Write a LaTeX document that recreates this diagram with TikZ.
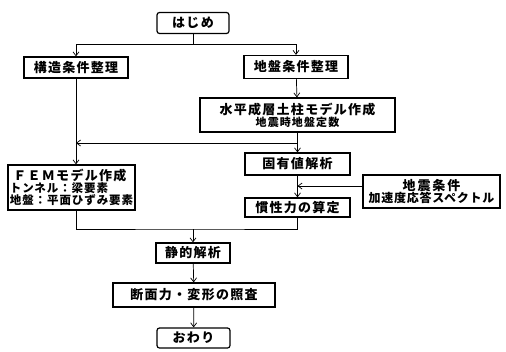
\documentclass[tikz,border=0pt]{standalone}
\usepackage{fontspec}
\setmainfont{Noto Sans CJK JP}
\usetikzlibrary{arrows.meta}
\newcommand{\subtxt}[1]{{\bfseries\fontsize{11}{12}\selectfont\addfontfeature{LetterSpace=10}#1}}
\newcommand{\midtxt}[1]{{\bfseries\fontsize{11.5}{12}\selectfont\addfontfeature{LetterSpace=8}#1}}
\begin{document}
\begin{tikzpicture}[x=1pt,y=-1pt,
  box/.style={draw,line width=1.2pt,inner sep=0pt,align=center,font=\bfseries\fontsize{13}{15}\selectfont\addfontfeature{LetterSpace=10}},
  rbox/.style={box,rounded corners=2.5pt},
  arr/.style={-{Straight Barb[length=4pt,width=6pt]}},
  line/.style={line width=0.7pt}]
\useasboundingbox (0,0) rectangle (506,351);
\node[rbox,minimum width=72pt,minimum height=21pt] (start) at (193,23) {はじめ};
\node[box,minimum width=104pt,minimum height=21pt] (kozo) at (76,67.5) {構造条件整理};
\node[box,minimum width=104pt,minimum height=23pt] (jiban) at (296,67) {地盤条件整理};
\node[box,minimum width=195pt,minimum height=34pt] (suihei) at (297.5,115) {水平成層土柱モデル作成\\[-3pt]\subtxt{地震時地盤定数}};
\node[box,minimum width=105pt,minimum height=22pt] (koyu) at (297.5,164) {固有値解析};
\node[box,minimum width=105pt,minimum height=19pt] (kansei) at (297.5,207.5) {慣性力の算定};
\node[box,minimum width=137pt,minimum height=33pt] (jishin) at (431.5,191.5) {\addfontfeature{LetterSpace=15}地震条件\\[-3pt]{\bfseries\fontsize{12}{12}\selectfont\addfontfeature{LetterSpace=6}加速度応答スペクトル}};
\node[box,minimum width=127pt,minimum height=45pt,align=left] (fem) at (71.5,187.5) {\makebox[120pt]{ＦＥＭモデル作成}\\[-3pt]\midtxt{トンネル：梁要素}\\[-3pt]\midtxt{地盤：平面ひずみ要素}};
\node[box,minimum width=74pt,minimum height=20pt] (seiteki) at (193,253) {静的解析};
\node[box,minimum width=162pt,minimum height=24pt] (danmen) at (194,295) {断面力・変形の照査};
\node[rbox,minimum width=73pt,minimum height=20pt] (owari) at (193.5,338) {おわり};
\coordinate (j1) at (193,44);
\coordinate (j2) at (297.5,143);
\coordinate (j3) at (297.5,186);
\coordinate (j4) at (193,229);
\draw[line] (start) -- (j1);
\draw[line,arr] (j1) -| (kozo);
\draw[line,arr] (j1) -| (jiban);
\draw[line,arr] (jiban) -- (suihei);
\draw[line] (suihei) -- (j2);
\draw[line,arr] (j2) -- (kozo.south |- j2);
\draw[line,arr] (j2) -- (koyu);
\draw[line,arr] (kozo.south) -- (kozo.south |- fem.north);
\draw[line,arr] (koyu) -- (kansei);
\draw[line,arr] (jishin.west |- j3) -- (j3);
\draw[line] (kozo.south |- fem.south) |- (j4) -| (kansei.south);
\draw[line,arr] (j4) -- (seiteki);
\draw[line,arr] (seiteki) -- (danmen);
\draw[line,arr] (danmen) -- (owari);
\end{tikzpicture}
\end{document}
